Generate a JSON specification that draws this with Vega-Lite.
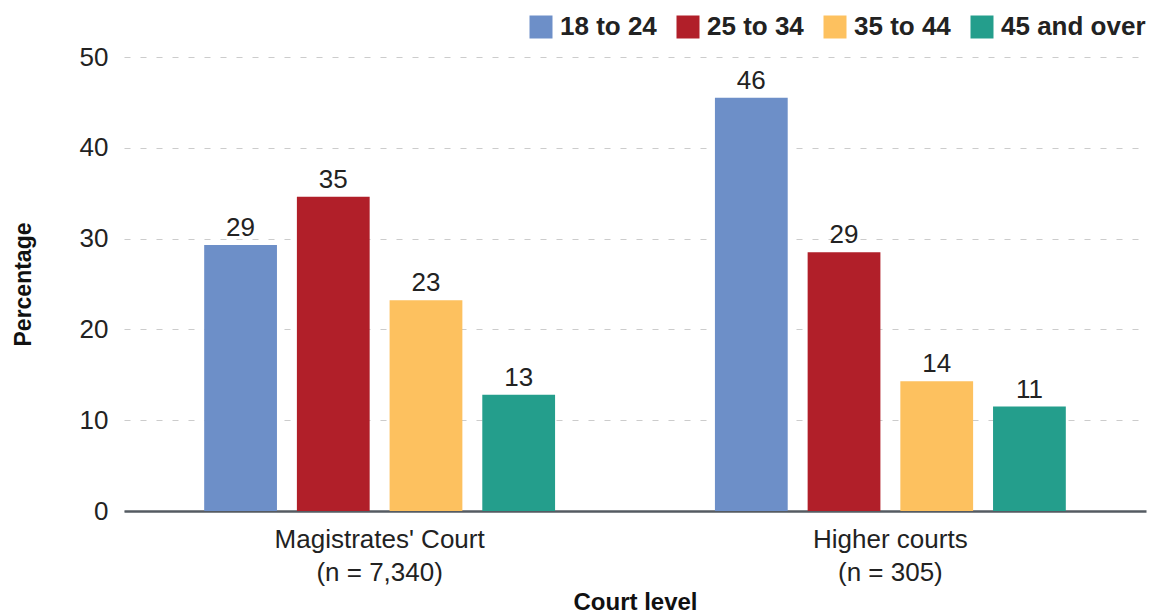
{
  "$schema": "https://vega.github.io/schema/vega-lite/v6.json",
  "width": 1022,
  "height": 454,
  "autosize": "none",
  "padding": {"left": 124, "top": 57, "right": 6, "bottom": 102},
  "background": "white",
  "config": {
    "font": "Liberation Sans",
    "view": {"stroke": null},
    "axis": {"labelColor": "#222", "titleColor": "#111"}
  },
  "data": {
    "values": [
      {"court": "Magistrates' Court", "age": "18 to 24", "value": 29.3, "label": "29"},
      {"court": "Magistrates' Court", "age": "25 to 34", "value": 34.6, "label": "35"},
      {"court": "Magistrates' Court", "age": "35 to 44", "value": 23.2, "label": "23"},
      {"court": "Magistrates' Court", "age": "45 and over", "value": 12.8, "label": "13"},
      {"court": "Higher courts", "age": "18 to 24", "value": 45.5, "label": "46"},
      {"court": "Higher courts", "age": "25 to 34", "value": 28.5, "label": "29"},
      {"court": "Higher courts", "age": "35 to 44", "value": 14.3, "label": "14"},
      {"court": "Higher courts", "age": "45 and over", "value": 11.5, "label": "11"}
    ]
  },
  "encoding": {
    "x": {
      "field": "court",
      "type": "nominal",
      "sort": ["Magistrates' Court", "Higher courts"],
      "scale": {"paddingInner": 0.313, "paddingOuter": 0.157},
      "axis": {
        "title": "Court level",
        "titleFontSize": 24,
        "titleFontWeight": "bold",
        "titlePadding": 5,
        "labelAngle": 0,
        "labelFontSize": 26,
        "labelLineHeight": 33,
        "labelPadding": 15,
        "labelLimit": 500,
        "labelExpr": "datum.label == \"Higher courts\" ? [\"Higher courts\", \"(n = 305)\"] : [\"Magistrates' Court\", \"(n = 7,340)\"]",
        "ticks": false,
        "domainColor": "#555b62",
        "domainWidth": 2.5
      }
    },
    "xOffset": {
      "field": "age",
      "type": "nominal",
      "sort": ["18 to 24", "25 to 34", "35 to 44", "45 and over"],
      "scale": {"paddingInner": 0.215, "paddingOuter": 0}
    },
    "y": {
      "field": "value",
      "type": "quantitative",
      "scale": {"domain": [0, 50]},
      "axis": {
        "title": "Percentage",
        "titleFontSize": 23,
        "titleFontWeight": "bold",
        "titlePadding": 44,
        "labelFontSize": 26,
        "labelPadding": 16,
        "values": [0, 10, 20, 30, 40, 50],
        "domain": false,
        "ticks": false,
        "gridColor": "#cccccc",
        "gridDash": [6, 10],
        "gridWidth": 1.2
      }
    }
  },
  "layer": [
    {
      "mark": {"type": "bar"},
      "encoding": {
        "color": {
          "field": "age",
          "type": "nominal",
          "sort": ["18 to 24", "25 to 34", "35 to 44", "45 and over"],
          "scale": {
            "domain": ["18 to 24", "25 to 34", "35 to 44", "45 and over"],
            "range": ["#6d8fc8", "#b11f29", "#fdc15f", "#249e8c"]
          },
          "legend": {
            "title": null,
            "orient": "none",
            "legendX": 404,
            "legendY": -43,
            "direction": "horizontal",
            "symbolType": "square",
            "symbolSize": 529,
            "symbolStrokeWidth": 0,
            "symbolOpacity": 1,
            "labelFontSize": 26,
            "labelFontWeight": "bold",
            "labelColor": "#222",
            "labelOffset": 6,
            "columnPadding": 18
          }
        }
      }
    },
    {
      "mark": {"type": "text", "baseline": "bottom", "dy": -4, "fontSize": 26, "color": "#222"},
      "encoding": {
        "text": {"field": "label", "type": "nominal"}
      }
    }
  ]
}
